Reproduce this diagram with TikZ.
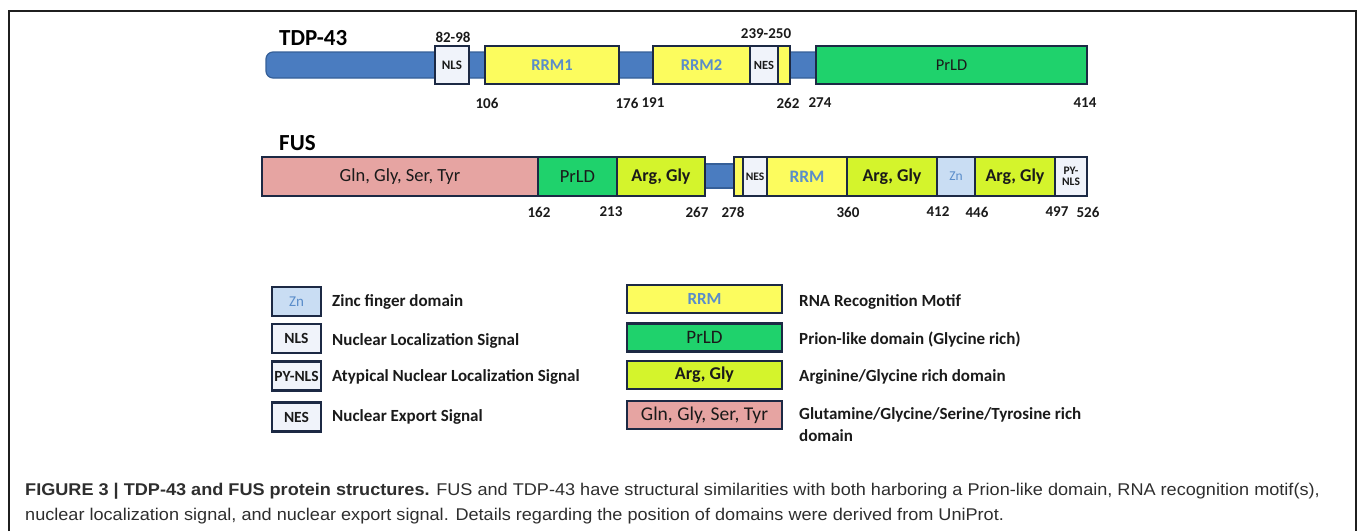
\documentclass[tikz,border=0pt]{standalone}
\usepackage{fontspec}
\setmainfont{Carlito}
\newfontfamily\capfont[FakeStretch=1.065]{Liberation Sans}
\newcommand\fsz[1]{\fontsize{#1}{#1}\selectfont}
\definecolor{barblue}{HTML}{4A7CC0}
\definecolor{barline}{HTML}{355F98}
\definecolor{navy}{HTML}{1C2944}
\definecolor{rrmY}{HTML}{FCFC5E}
\definecolor{rrmT}{HTML}{5A8DCA}
\definecolor{prld}{HTML}{1FD26C}
\definecolor{argG}{HTML}{D4F42C}
\definecolor{glnP}{HTML}{E6A4A2}
\definecolor{znB}{HTML}{C9DDF3}
\definecolor{sigW}{HTML}{F0F3FA}
\definecolor{txt}{HTML}{1A1A1A}
\definecolor{capT}{HTML}{2E2E2E}
\tikzset{
  dom/.style={draw=navy, line width=2.2pt, inner sep=0pt, outer sep=0pt, text=txt},
  protbar/.style={draw=barline, fill=barblue, line width=1.2pt, inner sep=0pt, outer sep=0pt},
  num/.style={font=\bfseries\fsz{15}, text=txt, inner sep=0pt},
  ttl/.style={font=\bfseries\fsz{23}, text=black, inner sep=0pt, anchor=west},
  leg/.style={font=\bfseries\fsz{17}, text=txt, inner sep=0pt, anchor=west},
  captxt/.style={font=\capfont\fsz{17}, text=capT, inner sep=0pt, anchor=base west},
  frameline/.style={draw=black!88, line width=1.6pt}
}
\begin{document}
\begin{tikzpicture}[x=1pt,y=-1pt]
\useasboundingbox (0,0) rectangle (1358,531);
\draw[frameline] (9,531) -- (9,11) -- (1356,11) -- (1356,531);

% ---------------- TDP-43 ----------------
\node[ttl] (tdpT) at (279,38) {TDP-43};
\node[protbar, minimum width=560, minimum height=26, rounded corners=7pt] (tdpbar) at (546,65) {};
\node[dom, fill=sigW, minimum width=34, minimum height=38, font=\bfseries\fsz{13}] (tnls) at (452,65) {NLS};
\node[dom, fill=rrmY, minimum width=134, minimum height=38, font=\bfseries\fsz{16.5}, text=rrmT] (trrm1) at (552,65) {RRM1};
\node[dom, fill=rrmY, minimum width=97, minimum height=38, font=\bfseries\fsz{16.5}, text=rrmT] (trrm2) at (701.5,65) {RRM2};
\node[dom, fill=sigW, minimum width=28, minimum height=38, font=\bfseries\fsz{12.5}] (tnes) at (764,65) {NES};
\node[dom, fill=rrmY, minimum width=12, minimum height=38] (trrm2b) at (784,65) {};
\node[dom, fill=prld, minimum width=271, minimum height=38, font=\fsz{16.5}] (tprld) at (951.5,65) {PrLD};
\node[num] (t8298) at (453,37) {82-98};
\node[num] (t239) at (766,34) {239-250};
\node[num] (t106) at (487,103) {106};
\node[num] (t176) at (627,103) {176};
\node[num] (t191) at (653,103) {191};
\node[num] (t262) at (788,103) {262};
\node[num] (t274) at (820,103) {274};
\node[num] (t414) at (1085,103) {414};

% ---------------- FUS ----------------
\node[ttl] (fusT) at (279,143) {FUS};
\node[protbar, minimum width=40, minimum height=24] (fusgap) at (719,176) {};
\node[dom, fill=glnP, minimum width=276, minimum height=39, font=\fsz{18.5}] (fgln) at (400,176.5) {Gln, Gly, Ser, Tyr};
\node[dom, fill=prld, minimum width=79, minimum height=39, font=\fsz{18.5}] (fprld) at (577.5,176.5) {PrLD};
\node[dom, fill=argG, minimum width=88, minimum height=39, font=\bfseries\fsz{18}] (farg1) at (661,176.5) {Arg, Gly};
\node[dom, fill=rrmY, minimum width=9, minimum height=39] (frrmb) at (738.5,176.5) {};
\node[dom, fill=sigW, minimum width=24, minimum height=39, font=\bfseries\fsz{11.5}] (fnes) at (755,176.5) {NES};
\node[dom, fill=rrmY, minimum width=80, minimum height=39, font=\bfseries\fsz{17.5}, text=rrmT] (frrm) at (807,176.5) {RRM};
\node[dom, fill=argG, minimum width=90, minimum height=39, font=\bfseries\fsz{18}] (farg2) at (892,176.5) {Arg, Gly};
\node[dom, fill=znB, minimum width=38, minimum height=39, font=\fsz{13.5}, text=rrmT] (fzn) at (956,176.5) {Zn};
\node[dom, fill=argG, minimum width=80, minimum height=39, font=\bfseries\fsz{18}] (farg3) at (1015,176.5) {Arg, Gly};
\node[dom, fill=sigW, minimum width=32, minimum height=39, font=\bfseries\fsz{11.5}, align=center] (fpy) at (1071,176.5) {PY-\\[-1pt]NLS};
\node[num] (f162) at (539,212) {162};
\node[num] (f213) at (611,212) {213};
\node[num] (f267) at (697,212) {267};
\node[num] (f278) at (733,212) {278};
\node[num] (f360) at (848,212) {360};
\node[num] (f412) at (938,212) {412};
\node[num] (f446) at (977,212) {446};
\node[num] (f497) at (1057,212) {497};
\node[num] (f526) at (1088,212) {526};

% ---------------- Legend left ----------------
\node[dom, fill=znB, minimum width=49, minimum height=29, font=\fsz{15}, text=rrmT] (lzn) at (296.5,301.5) {Zn};
\node[dom, fill=sigW, minimum width=49, minimum height=29, font=\bfseries\fsz{15.5}] (lnls) at (296.5,338.5) {NLS};
\node[dom, fill=sigW, minimum width=49, minimum height=29, font=\bfseries\fsz{15.5}] (lpy) at (296.5,376) {PY-NLS};
\node[dom, fill=sigW, minimum width=49, minimum height=29, font=\bfseries\fsz{15.5}] (lnes) at (296.5,417) {NES};
\node[leg] (tzn) at (332,302) {Zinc finger domain};
\node[leg] (tnlsL) at (332,341) {Nuclear Localization Signal};
\node[leg] (tpyL) at (332,377) {Atypical Nuclear Localization Signal};
\node[leg] (tnesL) at (332,417) {Nuclear Export Signal};

% ---------------- Legend right ----------------
\node[dom, fill=rrmY, minimum width=155, minimum height=28, font=\bfseries\fsz{17}, text=rrmT] (lrrm) at (704.5,299) {RRM};
\node[dom, fill=prld, minimum width=155, minimum height=28, font=\fsz{19}] (lprld) at (704.5,337.5) {PrLD};
\node[dom, fill=argG, minimum width=155, minimum height=28, font=\bfseries\fsz{18}] (larg) at (704.5,375) {Arg, Gly};
\node[dom, fill=glnP, minimum width=155, minimum height=28, font=\fsz{19.5}] (lgln) at (704.5,415) {Gln, Gly, Ser, Tyr};
\node[leg] (trrmL) at (799,302) {RNA Recognition Motif};
\node[leg] (tprldL) at (799,340) {Prion-like domain (Glycine rich)};
\node[leg] (targL) at (799,377) {Arginine/Glycine rich domain};
\node[leg, align=left, font={\bfseries\fontsize{17}{22}\selectfont}] (tglnL) at (799,425) {Glutamine/Glycine/Serine/Tyrosine rich\\domain};

% ---------------- Caption ----------------
\node[captxt] (cap1) at (25,495) {{\bfseries FIGURE 3 | TDP-43 and FUS protein structures.} FUS and TDP-43 have structural similarities with both harboring a Prion-like domain, RNA recognition motif(s),};
\node[captxt] (cap2) at (25,520) {nuclear localization signal, and nuclear export signal. Details regarding the position of domains were derived from UniProt.};
\end{tikzpicture}
\end{document}
